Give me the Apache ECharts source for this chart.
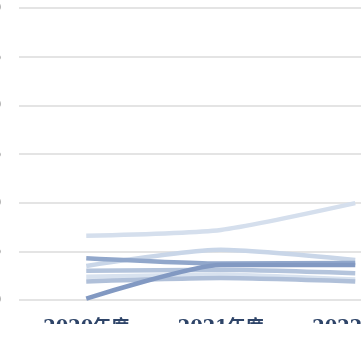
<!DOCTYPE html>
<html><head><meta charset="utf-8">
<script src="https://cdn.jsdelivr.net/npm/echarts@6/dist/echarts.min.js"></script>
<style>html,body{margin:0;padding:0;background:#fff;overflow:hidden;width:361px;height:350px}
#c{position:absolute;left:0;top:0;width:470px;height:324px}</style>
</head><body><div id="c"></div>
<script>
var categories = ['2020年度', '2021年度', '2022年度'];
var yTicks = [0, 5, 10, 15, 20, 25, 30];
var seriesA = [6.6, 7.2, 9.95];
var seriesB = [0.15, 3.6, 3.6];
var seriesC = [3.5, 5.15, 4.1];
var seriesD = [4.3, 3.75, 3.8];
var seriesE = [3.0, 3.1, 2.75];
var seriesF = [2.4, 2.6, 2.1];
var seriesG = [1.9, 2.25, 1.9];
var colors = ['#d5dfed', '#8299c2', '#c9d6e8', '#91a7cb', '#b4c4dc', '#d8e2ef', '#b0c0d9'];
var allSeries = [seriesA, seriesC, seriesF, seriesE, seriesG, seriesD, seriesB];
var order = [0, 2, 5, 4, 6, 3, 1];
var chart = echarts.init(document.getElementById('c'));
chart.setOption({
  animation: false,
  grid: {left: 19, top: 8, width: 403.5, height: 292, containLabel: false, outerBoundsMode: 'none'},
  xAxis: {
    type: 'category', data: categories, boundaryGap: true,
    axisLine: {show: false}, axisTick: {show: false},
    axisLabel: {margin: 19, fontSize: 18, fontWeight: 'bold', color: '#2e4468', fontFamily: 'DejaVu Serif, Noto Sans CJK SC'}
  },
  yAxis: {
    type: 'value', min: yTicks[0], max: yTicks[yTicks.length - 1], interval: 5,
    axisLine: {show: false}, axisTick: {show: false},
    splitLine: {lineStyle: {color: '#e4e4e4', width: 2}},
    axisLabel: {margin: 18, fontSize: 14, color: '#666'}
  },
  series: allSeries.map(function (d, i) {
    return {type: 'line', data: d, smooth: 0.2, showSymbol: false,
      lineStyle: {width: 4.5, color: colors[order[i]]}};
  })
});
</script></body></html>
